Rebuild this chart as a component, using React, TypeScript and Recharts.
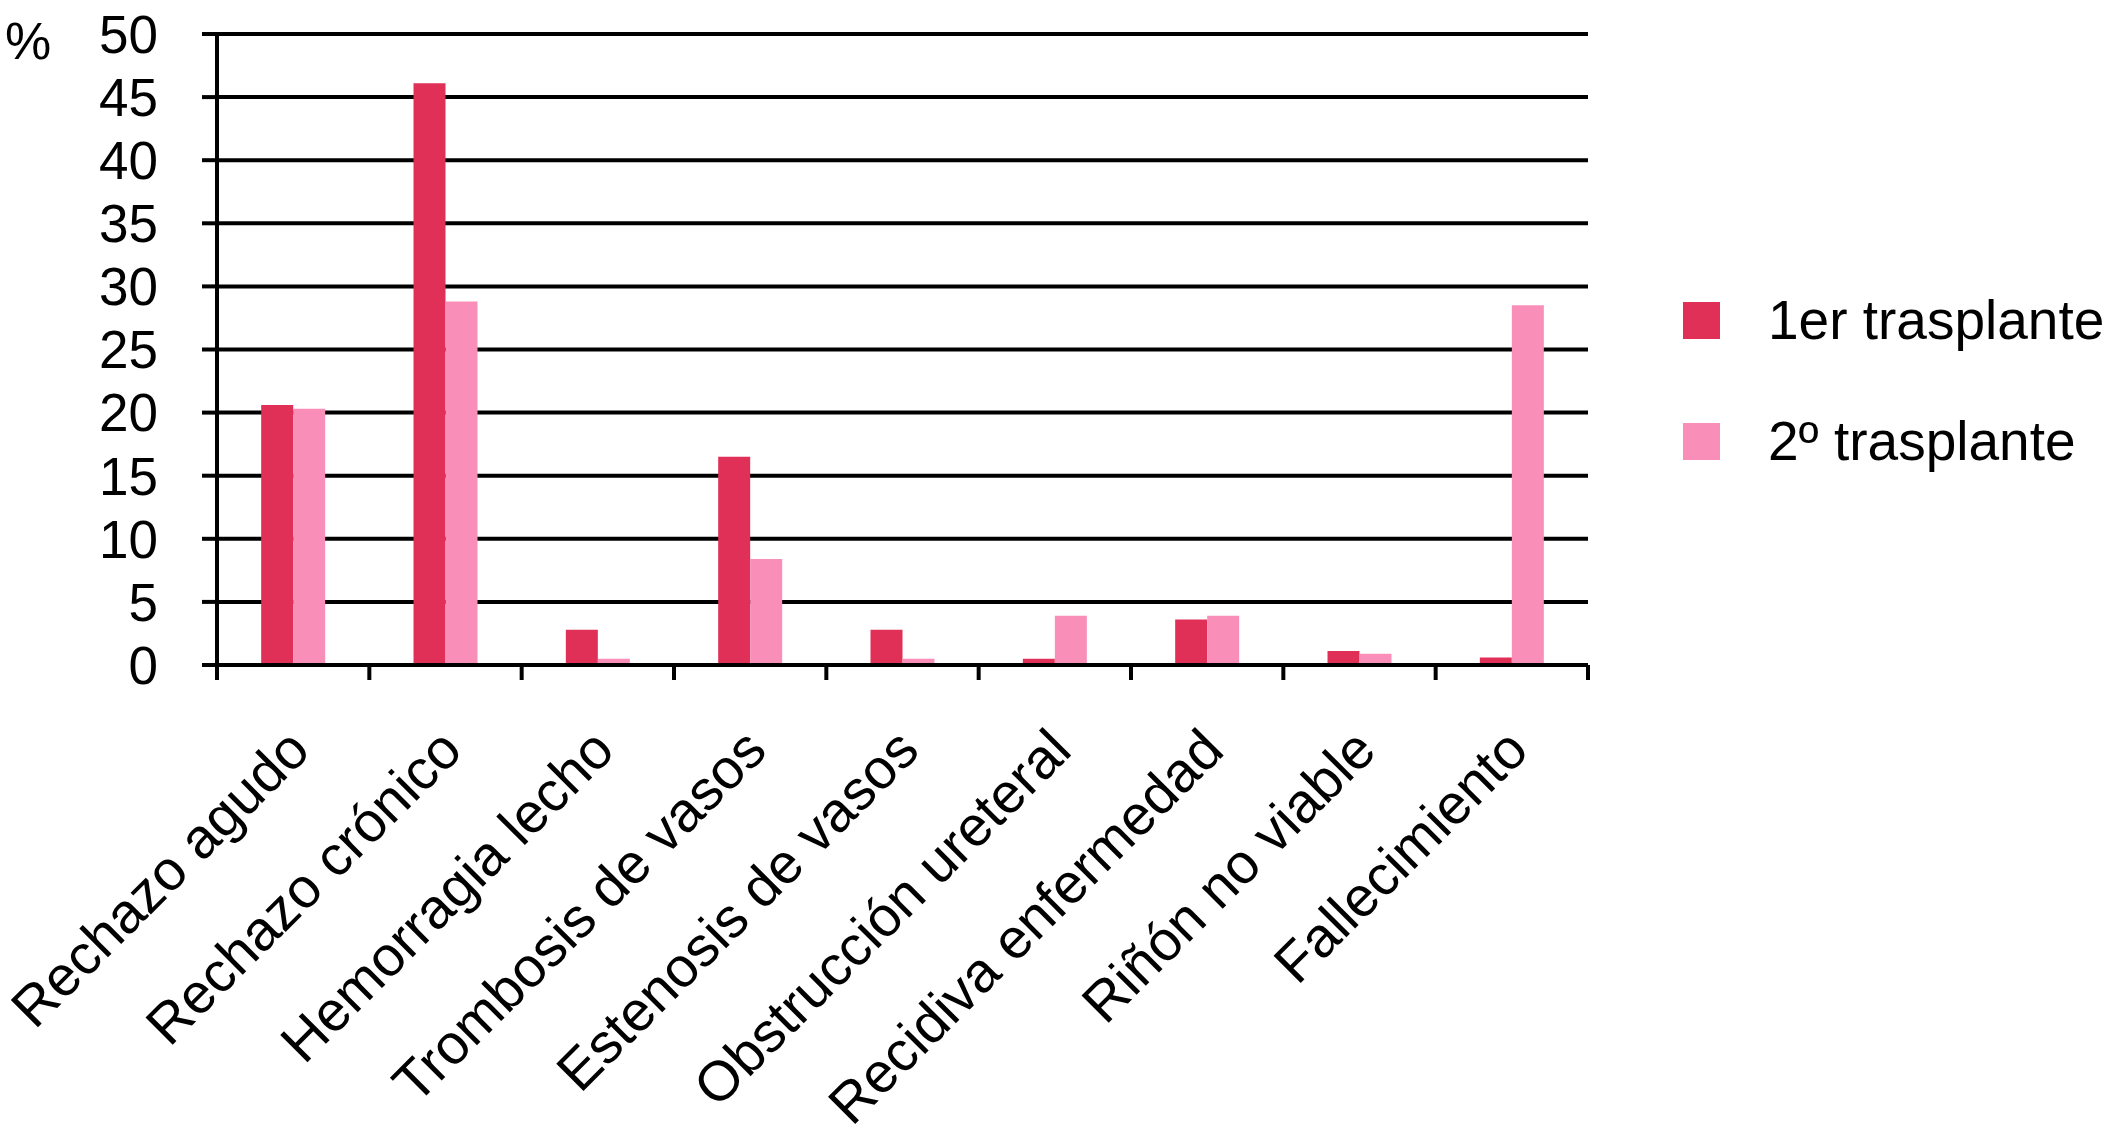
import React from "react";
import { BarChart, Bar, XAxis, YAxis, CartesianGrid } from "recharts";

const categories = [
  "Rechazo agudo",
  "Rechazo crónico",
  "Hemorragia lecho",
  "Trombosis de vasos",
  "Estenosis de vasos",
  "Obstrucción ureteral",
  "Recidiva enfermedad",
  "Riñón no viable",
  "Fallecimiento",
];
const primerTrasplante = [20.6, 46.1, 2.8, 16.5, 2.8, 0.5, 3.6, 1.1, 0.6];
const segundoTrasplante = [20.3, 28.8, 0.5, 8.4, 0.5, 3.9, 3.9, 0.9, 28.5];
const seriesNames = ["1er trasplante", "2º trasplante"];
const yTicks = [0, 5, 10, 15, 20, 25, 30, 35, 40, 45, 50];

const RED = "#E03058";
const PINK = "#F98EB8";
const FONT = "'Liberation Sans', Arial, Helvetica, sans-serif";
const LINE = 4;

const data = categories.map((name, i) => ({
  name,
  primer: primerTrasplante[i],
  segundo: segundoTrasplante[i],
}));

function CategoryTick(props: any) {
  const { x, y, payload, index } = props;
  const off = payload?.offset ?? 76;
  const last = index === categories.length - 1;
  return (
    <g>
      <line x1={x - off} y1={y} x2={x - off} y2={y + 15} stroke="#000" strokeWidth={LINE} />
      {last && <line x1={x + off} y1={y} x2={x + off} y2={y + 15} stroke="#000" strokeWidth={LINE} />}
      <text
        transform={`translate(${x + 19},${y + 88}) rotate(-45)`}
        textAnchor="end"
        fontSize={56}
        fontFamily={FONT}
        fill="#000"
      >
        {payload.value}
      </text>
    </g>
  );
}

export default function App() {
  const colors = [RED, PINK];
  return (
    <div style={{ position: "absolute", left: 0, top: 0, width: 2111, height: 1132, background: "#fff", fontFamily: FONT }}>
      <BarChart
        width={2111}
        height={1132}
        data={data}
        margin={{ top: 34, right: 523, bottom: 67, left: 0 }}
        barCategoryGap="29%"
        barGap={0}
      >
        <CartesianGrid vertical={false} stroke="#000" strokeWidth={LINE} />
        <XAxis
          dataKey="name"
          height={400}
          interval={0}
          tick={<CategoryTick />}
          tickLine={false}
          tickSize={0}
          tickMargin={0}
          axisLine={{ stroke: "#000", strokeWidth: LINE }}
        />
        <YAxis
          domain={[0, 50]}
          ticks={yTicks}
          interval={0}
          width={217}
          tickSize={15}
          tickMargin={44}
          tickLine={{ stroke: "#000", strokeWidth: LINE }}
          axisLine={{ stroke: "#000", strokeWidth: LINE }}
          tick={{ fill: "#000", fontSize: 53, fontFamily: FONT }}
        />
        <YAxis
          yAxisId="r"
          orientation="right"
          width={0}
          tick={false}
          tickLine={false}
          axisLine={{ stroke: "#000", strokeWidth: LINE }}
        />
        <Bar dataKey="primer" name={seriesNames[0]} fill={RED} isAnimationActive={false} />
        <Bar dataKey="segundo" name={seriesNames[1]} fill={PINK} isAnimationActive={false} />
      </BarChart>

      {/* unidad del eje */}
      <div style={{ position: "absolute", left: 5, top: 13, fontSize: 52, lineHeight: "56px", color: "#000" }}>%</div>

      {/* leyenda */}
      {seriesNames.map((s, i) => (
        <div
          key={s}
          style={{
            position: "absolute",
            left: 1683,
            top: 302 + i * 121,
            height: 37,
            display: "flex",
            alignItems: "center",
            whiteSpace: "nowrap",
          }}
        >
          <div style={{ width: 37, height: 37, background: colors[i] }} />
          <div style={{ marginLeft: 48, fontSize: 55, lineHeight: "37px", color: "#000" }}>{s}</div>
        </div>
      ))}
    </div>
  );
}
